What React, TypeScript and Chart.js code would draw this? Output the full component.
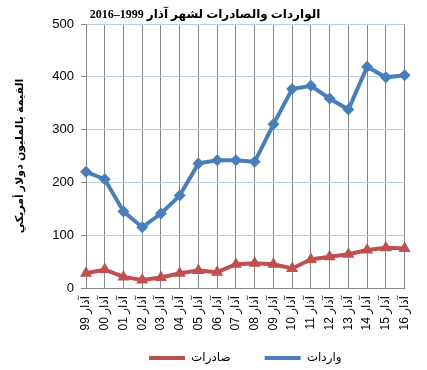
import React, { useEffect, useRef } from 'react';
import { Chart, registerables } from 'chart.js';

Chart.register(...registerables);

const years = ['99', '00', '01', '02', '03', '04', '05', '06', '07', '08', '09', '10', '11', '12', '13', '14', '15', '16'];
const categories = years.map((y) => `${y} آذار`);
const importsValues = [220, 206, 145, 115, 141, 175, 236, 242, 242, 239, 310, 377, 383, 359, 338, 419, 399, 403];
const exportsValues = [28, 35, 21, 15, 20, 28, 33, 30, 45, 47, 45, 37, 54, 59, 64, 72, 76, 75];
const importsLabel = 'واردات';
const exportsLabel = 'صادرات';
const chartTitle = 'الواردات والصادرات لشهر آذار 1999–2016';
const yTitle = 'القيمة بالمليون دولار أمريكي';
const yMin = 0;
const yMax = 500;
const yStep = 100;

const BLUE = '#4a7ebb';
const RED = '#c0504d';
const SANS = "'Liberation Sans', Arial, 'DejaVu Sans', sans-serif";

export default function App() {
  const ref = useRef<HTMLCanvasElement | null>(null);

  useEffect(() => {
    document.body.style.margin = '0';
    const canvas = ref.current;
    if (!canvas) return;
    const chart = new Chart(canvas, {
      type: 'line',
      data: {
        labels: categories,
        datasets: [
          {
            label: importsLabel,
            data: importsValues,
            borderColor: BLUE,
            backgroundColor: BLUE,
            borderWidth: 4,
            pointStyle: 'rectRot',
            pointRadius: 6,
            pointBorderWidth: 0,
            tension: 0,
          },
          {
            label: exportsLabel,
            data: exportsValues,
            borderColor: RED,
            backgroundColor: RED,
            borderWidth: 4,
            pointStyle: 'triangle',
            pointRadius: 7,
            pointBorderWidth: 0,
            tension: 0,
          },
        ],
      },
      options: {
        responsive: false,
        animation: false,
        layout: { padding: { left: 4, right: 21, top: 0, bottom: -4 } },
        plugins: {
          tooltip: { enabled: false },
          title: {
            display: true,
            text: chartTitle,
            color: '#000',
            font: { family: "'Liberation Serif', 'Times New Roman', 'DejaVu Sans', serif", size: 12, weight: 'bold' },
            padding: { top: 8, bottom: 1.6 },
          },
          legend: {
            display: true,
            position: 'bottom',
            fullSize: false,
            reverse: true,
            labels: {
              color: '#000',
              font: { family: SANS, size: 12 },
              boxWidth: 36,
              boxHeight: 4,
              padding: 16,
              generateLabels: (c: any) =>
                Chart.defaults.plugins.legend.labels
                  .generateLabels(c)
                  .map((l: any) => ({
                    ...l,
                    lineWidth: 0,
                    text: l.datasetIndex === 1 ? l.text + '\u2003\u2002' : l.text,
                  })),
            },
          },
        },
        scales: {
          x: {
            type: 'category',
            offset: false,
            grid: { display: true, color: '#868686', lineWidth: 1, drawTicks: false },
            border: { display: true, color: '#868686' },
            ticks: {
              color: '#000',
              font: { family: SANS, size: 12 },
              maxRotation: 90,
              minRotation: 90,
              autoSkip: false,
              padding: 8,
            },
            afterFit: (s: any) => {
              s.height = 48;
            },
          },
          y: {
            min: yMin,
            max: yMax,
            grid: { color: '#b9cde5', lineWidth: 1, tickLength: 5, tickColor: '#868686' },
            border: { display: true, color: '#868686' },
            ticks: {
              stepSize: yStep,
              color: '#000',
              font: { family: SANS, size: 13 },
              padding: 7,
            },
            title: {
              display: true,
              text: yTitle,
              color: '#000',
              font: { family: SANS, size: 11, weight: 'bold' },
              padding: { top: 9, bottom: 0 },
            },
            afterFit: (s: any) => {
              s.width = 82;
            },
          },
        },
      },
    });
    return () => chart.destroy();
  }, []);

  return (
    <div style={{ position: 'absolute', left: 0, top: 0, width: 427, height: 370 }}>
      <canvas ref={ref} width={427} height={370} style={{ width: 427, height: 370 }} />
    </div>
  );
}
